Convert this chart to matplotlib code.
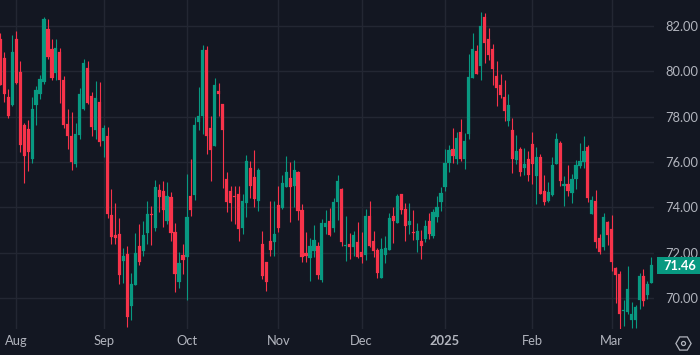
import matplotlib
matplotlib.use("Agg")
import matplotlib.pyplot as plt
from matplotlib.patches import Rectangle, RegularPolygon, Circle
import numpy as np

highs = [81.68,80.84,79.22,81.60,81.78,80.46,77.72,77.85,78.87,79.35,79.84,82.40,82.31,81.43,81.43,81.03,79.79,78.34,78.21,77.72,79.26,80.54,80.46,79.09,79.57,79.53,77.63,77.54,
74.81,74.19,73.53,72.21,72.29,71.10,72.87,73.26,73.40,74.28,74.06,75.21,75.03,75.16,75.12,74.68,
73.31,72.03,72.40,75.47,76.13,77.99,79.31,81.16,81.12,78.03,79.71,79.48,78.56,75.56,74.94,74.94,74.94,74.59,76.31,76.04,76.53,75.73,
72.96,71.59,74.28,74.28,74.94,75.43,76.26,76.00,76.09,75.60,74.15,72.91,72.65,73.22,72.47,73.49,73.88,73.97,74.41,75.43,74.85,73.62,72.87,
72.96,73.35,72.91,73.93,74.28,72.96,72.21,72.65,72.73,73.75,74.01,74.59,74.59,74.19,74.19,73.88,73.31,73.00,73.44,73.75,73.93,74.50,74.90,
76.57,76.75,77.50,77.32,77.90,77.28,80.76,81.69,81.16,82.62,82.57,81.91,81.21,80.46,79.88,79.62,79.00,77.94,77.19,76.66,
76.60,76.49,77.32,76.66,76.35,75.43,75.12,76.22,77.28,76.93,75.38,75.87,75.47,76.09,76.84,77.15,76.75,74.50,74.76,72.82,73.75,73.40,73.66,
71.37,71.19,69.91,71.41,69.82,69.69,71.10,71.28,70.75,71.81]
lows = [79.40,78.66,77.93,78.47,79.44,76.44,75.07,75.60,75.95,77.63,78.78,79.44,80.54,79.62,79.62,78.60,77.50,76.57,75.65,75.78,77.02,78.30,78.56,77.15,77.02,76.71,76.22,73.53,
72.38,72.38,70.62,70.66,68.72,69.03,70.57,71.46,71.85,72.38,72.34,72.96,73.79,73.13,73.26,72.52,
70.27,70.44,71.06,69.91,73.62,74.32,77.41,77.23,76.35,75.16,76.71,78.03,74.85,73.79,73.40,73.26,72.52,72.82,73.57,74.41,74.01,73.84,
70.84,70.31,71.85,71.85,72.91,73.93,74.90,73.35,74.01,73.44,71.59,71.59,70.75,71.81,70.84,70.71,72.82,72.73,72.91,73.44,72.29,71.63,71.72,
71.85,71.76,71.54,71.68,72.25,71.81,70.88,70.88,71.54,72.12,72.43,73.31,73.71,72.52,72.82,72.56,72.03,71.72,72.47,72.60,72.65,73.35,73.84,
74.72,75.56,75.95,75.91,76.04,75.69,77.02,79.71,79.88,79.62,80.37,80.50,79.40,78.47,78.82,77.81,77.59,75.51,75.91,75.38,
75.43,75.16,75.03,74.15,74.59,74.10,74.24,74.50,75.91,74.94,74.06,74.50,74.19,74.81,75.73,75.73,74.24,73.71,72.21,71.94,72.12,72.34,71.19,
69.78,68.63,68.76,69.29,68.68,68.68,69.51,69.65,69.96,70.66]
opens = [81.43,80.59,78.87,78.50,81.43,79.97,77.63,77.45,76.13,78.51,79.00,79.53,81.87,80.99,79.93,80.85,79.62,77.67,77.15,75.91,77.19,78.34,80.15,78.91,77.41,78.65,76.93,77.15,
73.66,72.78,72.82,71.63,71.94,69.65,70.57,72.29,72.07,72.87,73.71,73.09,74.76,74.72,73.40,74.46,
72.91,70.71,71.90,71.81,74.50,74.55,77.76,78.03,80.94,77.50,76.71,79.13,78.56,75.25,74.72,74.50,74.59,73.09,74.19,75.73,75.34,74.28,
72.38,71.59,72.52,72.47,74.10,73.97,74.90,75.29,74.94,75.56,73.88,71.98,71.76,72.07,72.29,70.79,73.13,73.40,73.09,74.24,74.81,72.29,72.38,
72.25,72.47,72.03,71.90,73.62,72.52,72.12,70.88,71.90,72.12,73.62,73.31,74.59,73.93,73.22,72.91,72.56,72.52,72.60,73.40,72.73,73.57,74.24,
74.90,75.95,76.57,76.13,77.32,76.13,77.23,79.71,80.90,80.24,82.40,81.43,80.99,79.79,79.40,78.87,77.81,77.41,76.09,76.57,
75.73,76.13,76.79,75.38,76.22,74.72,74.28,74.55,75.91,76.84,74.94,75.03,74.63,75.25,75.82,76.00,76.66,73.71,74.28,72.65,72.25,73.35,73.04,
71.32,71.06,69.43,69.38,69.03,69.03,69.91,70.97,70.13,70.66]
closes = [79.40,79.00,78.02,80.85,79.48,76.75,76.26,76.44,78.34,79.18,79.66,82.31,80.63,79.71,81.03,79.62,77.63,77.15,76.00,77.23,79.00,80.37,78.60,77.54,78.82,76.88,77.50,73.71,
72.69,72.65,71.01,71.85,69.16,70.62,71.98,71.59,72.78,73.71,73.66,74.90,74.46,73.88,74.50,72.87,
71.06,71.54,71.68,73.57,73.88,77.63,78.03,80.94,77.15,76.53,79.40,79.00,77.41,74.24,74.19,74.46,73.04,74.28,76.04,74.94,74.37,75.65,
70.97,70.71,72.12,72.82,73.09,75.07,75.56,74.90,75.65,73.84,71.81,71.85,72.29,72.56,71.01,73.31,73.31,72.78,74.24,75.16,72.47,72.34,72.25,
72.78,71.81,71.81,73.62,72.29,72.07,71.10,72.16,72.21,73.53,73.40,74.50,73.88,73.18,73.40,72.87,72.96,72.29,73.18,72.82,73.79,74.01,74.63,
75.95,76.53,76.26,77.06,76.13,76.93,79.75,80.99,79.88,82.00,81.25,80.72,80.10,79.26,78.96,78.25,78.51,76.13,76.49,75.56,
75.91,75.43,75.91,76.22,74.59,74.24,74.68,75.87,77.02,75.16,75.03,74.72,75.25,75.87,76.04,76.49,74.41,74.32,72.47,72.03,73.57,72.78,71.59,
71.01,69.29,69.47,70.40,69.29,69.60,70.97,69.87,70.62,71.46]

tick_pos = [4, 26, 47, 70, 91, 112, 134, 154]
tick_labels = ["Aug", "Sep", "Oct", "Nov", "Dec", "2025", "Feb", "Mar"]
price_ticks = [70, 72, 74, 76, 78, 80, 82]
last_price = 71.46

BG = "#131722"; GRID = "#232733"; UP = "#089981"; DOWN = "#f7334a"; TXT = "#b2b5be"
plt.rcParams["font.family"] = ["Lato", "DejaVu Sans"]

W, H = 700, 355
fig = plt.figure(figsize=(W/100, H/100), dpi=100, facecolor=BG)
ax = fig.add_axes([0, (H-329)/H, 654/W, 329/H], facecolor=BG)

o, h, l, c = map(np.array, (opens, highs, lows, closes))
x = np.arange(len(o))
up = c >= o
colors = np.where(up, UP, DOWN)
ax.vlines(x, l, h, colors=colors, linewidth=0.8, zorder=3)
ax.bar(x, np.maximum(np.abs(c-o), 0.03), bottom=np.minimum(o, c), width=0.8,
       color=colors, edgecolor=colors, linewidth=0.15, zorder=3)

ax.set_xlim(-0.083, 164.65)
ax.set_ylim(83.147-329*3/68, 83.147)
for s in ax.spines.values():
    s.set_visible(False)
ax.grid(True, color=GRID, linewidth=1.0, zorder=0)
ax.set_axisbelow(True)
ax.set_xticks(tick_pos)
ax.set_xticklabels(tick_labels)
ax.set_yticks(price_ticks)
ax.set_yticklabels([f"{v:.2f}" for v in price_ticks])
ax.yaxis.tick_right()
ax.tick_params(axis="y", length=0, pad=8.2, labelsize=9.3, labelcolor=TXT)
ax.tick_params(axis="x", length=0, pad=4.5, labelsize=9.3, labelcolor=TXT)
for t, s in zip(ax.get_xticklabels(), tick_labels):
    if s == "2025":
        t.set_fontweight("bold")

# last price tag
ypx = 265.5
fig.add_artist(Rectangle((657/W, 1-274/H), 43/W, 17/H, transform=fig.transFigure,
                         facecolor=UP, edgecolor="none", zorder=5))
fig.text(679.5/W, 1-ypx/H, f"{last_price:.2f}", color="white", fontsize=9.3, fontweight="bold",
         ha="center", va="center", zorder=6)

# settings icon (hexagon + circle), square pixel space
iax = fig.add_axes([0, 0, 1, 1], facecolor="none")
iax.set_xlim(0, W); iax.set_ylim(H, 0); iax.axis("off")
iax.add_patch(RegularPolygon((683.5, 343.5), 6, radius=7.6, orientation=np.pi/6,
                             fill=False, edgecolor=TXT, linewidth=0.9))
iax.add_patch(Circle((683.5, 343.5), 2.0, fill=False, edgecolor=TXT, linewidth=0.9))

fig.savefig("out.png", dpi=100, facecolor=BG)
